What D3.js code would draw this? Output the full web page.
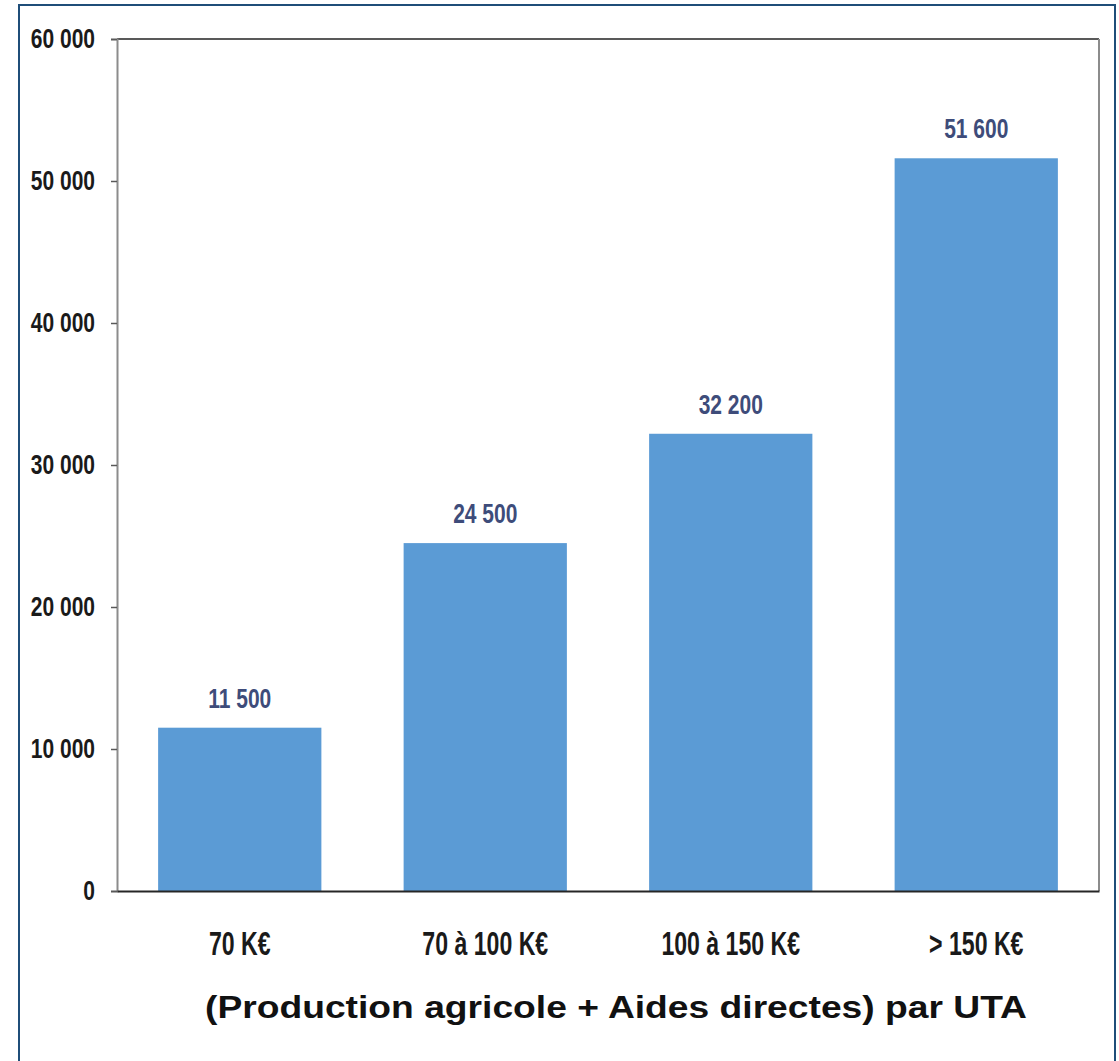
<!DOCTYPE html>
<html>
<head>
<meta charset="utf-8">
<script src="https://cdn.jsdelivr.net/npm/d3@7"></script>
<style>
  html, body { margin: 0; padding: 0; background: #ffffff; }
  svg { display: block; }
</style>
</head>
<body>
<script>
const categories = ["70 K€", "70 à 100 K€", "100 à 150 K€", "> 150 K€"];
const values = [11500, 24500, 32200, 51600];
const valueLabels = ["11 500", "24 500", "32 200", "51 600"];
const yTicks = [0, 10000, 20000, 30000, 40000, 50000, 60000];
const yTickLabels = ["0", "10 000", "20 000", "30 000", "40 000", "50 000", "60 000"];
const xTitle = "(Production agricole + Aides directes) par UTA";

const W = 1119, H = 1061;
const plot = { left: 117, right: 1099, top: 39, bottom: 891 };
const sans = "'Liberation Sans', Arial, sans-serif";

// horizontally condense text (the original uses a narrow font)
function condense(sel, s) {
  sel.each(function () {
    const L = this.getComputedTextLength();
    d3.select(this).attr("textLength", L * s).attr("lengthAdjust", "spacingAndGlyphs");
  });
}

const svg = d3.select("body").append("svg")
  .attr("width", W).attr("height", H);

svg.append("rect").attr("width", W).attr("height", H).attr("fill", "#ffffff");

// outer frame
svg.append("rect")
  .attr("x", 19).attr("y", 5)
  .attr("width", 1096).attr("height", 1080)
  .attr("fill", "none")
  .attr("stroke", "#1F4E79").attr("stroke-width", 2);

const x = d3.scaleBand()
  .domain(categories)
  .range([plot.left, plot.right])
  .paddingInner(0.335).paddingOuter(0.1675);

const y = d3.scaleLinear()
  .domain([0, 60000])
  .range([plot.bottom, plot.top]);

// plot frame top + right
svg.append("line")
  .attr("x1", plot.left).attr("x2", plot.right)
  .attr("y1", plot.top).attr("y2", plot.top)
  .attr("stroke", "#595959").attr("stroke-width", 2);
svg.append("line")
  .attr("x1", plot.right).attr("x2", plot.right)
  .attr("y1", plot.top).attr("y2", plot.bottom)
  .attr("stroke", "#8c8c8c").attr("stroke-width", 2);

// bars
svg.append("g").selectAll("rect")
  .data(values)
  .join("rect")
  .attr("x", (d, i) => x(categories[i]))
  .attr("y", d => y(d))
  .attr("width", x.bandwidth())
  .attr("height", d => y(0) - y(d))
  .attr("fill", "#5B9BD5");

// value labels
const vl = svg.append("g").selectAll("text")
  .data(values)
  .join("text")
  .attr("x", (d, i) => x(categories[i]) + x.bandwidth() / 2)
  .attr("y", d => y(d) - 20)
  .attr("text-anchor", "middle")
  .attr("font-family", sans)
  .attr("font-weight", "bold")
  .attr("font-size", 28)
  .attr("fill", "#3E4C7A")
  .text((d, i) => valueLabels[i]);
condense(vl, 0.75);

// y axis
const yAxis = d3.axisLeft(y)
  .tickValues(yTicks)
  .tickFormat((d, i) => yTickLabels[i])
  .tickSize(6)
  .tickPadding(16);
const gy = svg.append("g")
  .attr("transform", `translate(${plot.left},0)`)
  .call(yAxis);
gy.select(".domain").attr("stroke", "#8c8c8c").attr("stroke-width", 2);
gy.selectAll(".tick line").attr("stroke", "#595959").attr("stroke-width", 1.5);
const yt = gy.selectAll(".tick text")
  .attr("font-family", sans)
  .attr("font-weight", "bold")
  .attr("font-size", 28)
  .attr("fill", "#1a1a1a");
condense(yt, 0.75);

// x axis
const xAxis = d3.axisBottom(x).tickSize(0).tickPadding(0);
const gx = svg.append("g")
  .attr("transform", `translate(0,${plot.bottom})`)
  .call(xAxis);
gx.select(".domain").attr("stroke", "#262626").attr("stroke-width", 2);
const xt = gx.selectAll(".tick text")
  .attr("dy", null)
  .attr("y", 64)
  .attr("font-family", sans)
  .attr("font-weight", "bold")
  .attr("font-size", 33)
  .attr("fill", "#1a1a1a");
condense(xt, 0.70);

// x title
svg.append("text")
  .attr("x", 205).attr("y", 1018)
  .attr("font-family", sans)
  .attr("font-weight", "bold")
  .attr("font-size", 32)
  .attr("fill", "#111111")
  .attr("textLength", 822)
  .attr("lengthAdjust", "spacingAndGlyphs")
  .text(xTitle);
</script>
</body>
</html>
